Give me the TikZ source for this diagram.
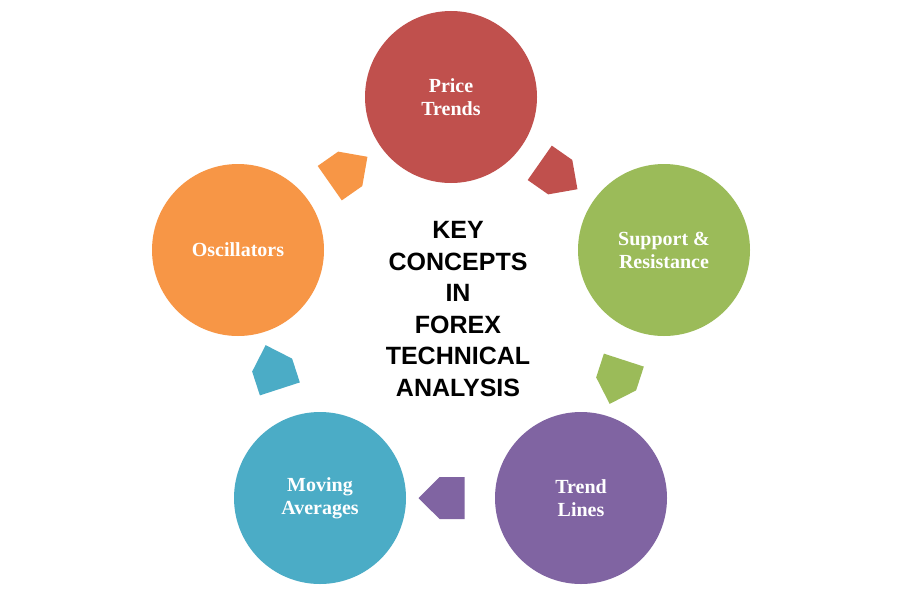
\documentclass[tikz,border=0pt]{standalone}
\usepackage{fontspec}
\setmainfont{Liberation Serif}
\newfontfamily\keyfont{Liberation Sans}
\usetikzlibrary{shapes.arrows}
\definecolor{cred}{HTML}{C0504D}
\definecolor{cgreen}{HTML}{9BBB59}
\definecolor{cpurple}{HTML}{8064A2}
\definecolor{cteal}{HTML}{4BACC6}
\definecolor{corange}{HTML}{F79646}
\tikzset{
 bub/.style={circle,minimum size=172pt,inner sep=0pt,text=white,font=\fontsize{20}{23}\selectfont\bfseries,align=center},
 blk/.style={single arrow,minimum height=46pt,minimum width=42pt,single arrow head extend=0pt,inner sep=5pt,fill=#1},
}
\begin{document}
\begin{tikzpicture}[x=1pt,y=-1pt]
\useasboundingbox (0,0) rectangle (899,594);
\fill[white] (0,0) rectangle (899,594);
\node[bub,fill=cred] (p) at (451,97) {Price\\Trends};
\node[bub,fill=cgreen] (s) at (664,250) {Support \&\\Resistance};
\node[bub,fill=cpurple] (t) at (581,498) {Trend\\Lines};
\node[bub,fill=cteal] (m) at (320,498) {Moving\\Averages};
\node[bub,fill=corange] (o) at (238,250) {Oscillators};
\node[blk=cred,rotate=-35] (a1) at (550,170) {};
\node[blk=cgreen,rotate=-108] (a2) at (620,372) {};
\node[blk=cpurple,rotate=180] (a3) at (452,498) {};
\node[blk=cteal,rotate=108] (a4) at (276,377) {};
\node[blk=corange,rotate=35] (a5) at (340,176) {};
\node[font=\keyfont\fontsize{25}{31.5}\selectfont\bfseries,align=center] (k) at (458,309) {KEY\\CONCEPTS\\IN\\FOREX\\TECHNICAL\\ANALYSIS};
\end{tikzpicture}
\end{document}
